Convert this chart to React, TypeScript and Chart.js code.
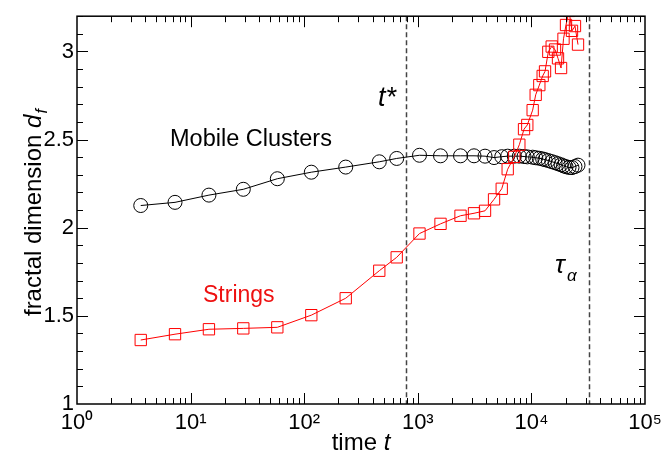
import React, { useEffect, useRef } from 'react';
import { Chart, registerables } from 'chart.js';

Chart.register(...registerables);

// shared time points (t)
const times = [3.64, 7.29, 14.5, 29.1, 58, 115.5, 232, 458, 652, 1035, 1585, 2377, 3125, 3906, 4690, 5480, 6185, 7070, 7830, 8610, 9200, 10260, 10910, 11740, 12570, 13180, 14090, 15090, 16140, 17150, 18240, 19170, 20170, 21440, 22770, 24190, 25720];

// Mobile Clusters fractal dimension
const mobileClusters = [2.126, 2.144, 2.185, 2.218, 2.278, 2.315, 2.344, 2.374, 2.393, 2.411, 2.408, 2.408, 2.408, 2.406, 2.398, 2.403, 2.406, 2.406, 2.406, 2.404, 2.402, 2.4, 2.397, 2.394, 2.39, 2.386, 2.381, 2.375, 2.369, 2.363, 2.357, 2.351, 2.346, 2.342, 2.341, 2.347, 2.355];

// Strings fractal dimension
const strings = [1.363, 1.396, 1.424, 1.429, 1.435, 1.504, 1.6, 1.756, 1.832, 1.967, 2.022, 2.068, 2.082, 2.096, 2.161, 2.221, 2.332, 2.402, 2.471, 2.559, 2.583, 2.667, 2.754, 2.809, 2.861, 2.887, 2.998, 3.028, 3.011, 2.961, 2.906, 3.072, 3.15, 3.23, 3.117, 3.144, 3.039];

const tStar = 790;
const tauAlpha = 32000;

const xTickValues = [1, 10, 100, 1000, 10000, 100000];
const yTickValues = [1, 1.5, 2, 2.5, 3];

const FONT = "'Liberation Sans', Arial, Helvetica, sans-serif";
const SUP = ['⁰', '¹', '²', '³', '⁴', '⁵', '⁶'];

const decor = {
  id: 'decor',
  beforeDatasetsDraw(chart: any) {
    const { ctx, chartArea: a, scales } = chart;
    const x = scales.x;
    ctx.save();
    ctx.strokeStyle = '#444';
    ctx.lineWidth = 1.5;
    ctx.setLineDash([5, 3]);
    for (const t of [tStar, tauAlpha]) {
      const px = Math.round(x.getPixelForValue(t)) + 0.5;
      ctx.beginPath();
      ctx.moveTo(px, a.top);
      ctx.lineTo(px, a.bottom);
      ctx.stroke();
    }
    ctx.restore();
  },
  afterDraw(chart: any) {
    const { ctx, chartArea: a, scales } = chart;
    const x = scales.x;
    const y = scales.y;
    ctx.save();
    // frame
    ctx.strokeStyle = '#000';
    ctx.lineWidth = 1.5;
    ctx.strokeRect(a.left, a.top, a.right - a.left, a.bottom - a.top);
    ctx.lineWidth = 1;
    // x ticks (inward, bottom and top)
    ctx.beginPath();
    for (let k = 0; k < 5; k++) {
      for (let m = 1; m <= 9; m++) {
        const v = m * Math.pow(10, k);
        if (m === 1 && k === 0) continue;
        const px = Math.round(x.getPixelForValue(v)) + 0.5;
        const len = m === 1 ? 11 : 6;
        ctx.moveTo(px, a.bottom);
        ctx.lineTo(px, a.bottom - len);
        ctx.moveTo(px, a.top);
        ctx.lineTo(px, a.top + len);
      }
    }
    // y ticks (inward, left and right)
    for (let i = 11; i <= 32; i++) {
      const v = i / 10;
      const py = Math.round(y.getPixelForValue(v)) + 0.5;
      const len = i % 5 === 0 ? 11 : 6;
      ctx.moveTo(a.left, py);
      ctx.lineTo(a.left + len, py);
      ctx.moveTo(a.right, py);
      ctx.lineTo(a.right - len, py);
    }
    ctx.stroke();

    ctx.textBaseline = 'alphabetic';
    ctx.textAlign = 'left';
    // x title: time t
    ctx.fillStyle = '#000';
    const f1 = `24px ${FONT}`;
    const f1i = `italic 24px ${FONT}`;
    ctx.font = f1;
    const w1 = ctx.measureText('time ').width;
    ctx.font = f1i;
    const w2 = ctx.measureText('t').width;
    const cx = (a.left + a.right) / 2;
    const sx = cx - (w1 + w2) / 2;
    ctx.font = f1;
    ctx.fillText('time ', sx, 450);
    ctx.font = f1i;
    ctx.fillText('t', sx + w1, 450);

    // y title: fractal dimension d_f
    ctx.save();
    ctx.translate(41, (a.top + a.bottom) / 2 + 3);
    ctx.rotate(-Math.PI / 2);
    ctx.font = f1;
    const p1 = 'fractal dimension ';
    const wp1 = ctx.measureText(p1).width;
    ctx.font = f1i;
    const wd = ctx.measureText('d').width;
    ctx.font = `italic 16px ${FONT}`;
    const wf = ctx.measureText('f').width;
    const s = -(wp1 + wd + wf) / 2;
    ctx.font = f1;
    ctx.fillText(p1, s, 0);
    ctx.font = f1i;
    ctx.fillText('d', s + wp1, 0);
    ctx.font = `italic 16px ${FONT}`;
    ctx.fillText('f', s + wp1 + wd + 1, 6);
    ctx.restore();

    // annotations
    ctx.font = `23.5px ${FONT}`;
    ctx.fillStyle = '#000';
    ctx.fillText('Mobile Clusters', 170, 146);
    ctx.font = `23px ${FONT}`;
    ctx.fillStyle = '#ee1111';
    ctx.fillText('Strings', 203, 302);
    ctx.fillStyle = '#000';
    ctx.font = `italic 27px ${FONT}`;
    ctx.textAlign = 'right';
    ctx.fillText('t*', 396, 106);
    ctx.textAlign = 'left';
    ctx.font = `italic 26px ${FONT}`;
    ctx.fillText('τ', 555, 273);
    ctx.font = `italic 17px ${FONT}`;
    ctx.fillText('α', 567, 281);
    ctx.restore();
  },
};

export default function App() {
  const ref = useRef<HTMLCanvasElement>(null);
  useEffect(() => {
    document.body.style.margin = '0';
    const chart = new Chart(ref.current as HTMLCanvasElement, {
      type: 'line',
      data: {
        datasets: [
          {
            label: 'Strings',
            data: times.map((t, i) => ({ x: t, y: strings[i] })),
            borderColor: '#ff0000',
            borderWidth: 1,
            pointStyle: 'rect',
            pointRadius: 8,
            pointBorderColor: '#ff0000',
            pointBorderWidth: 1,
            pointBackgroundColor: 'rgba(0,0,0,0)',
            tension: 0,
          },
          {
            label: 'Mobile Clusters',
            data: times.map((t, i) => ({ x: t, y: mobileClusters[i] })),
            borderColor: '#000',
            borderWidth: 1,
            pointStyle: 'circle',
            pointRadius: 7,
            pointBorderColor: '#000',
            pointBorderWidth: 1,
            pointBackgroundColor: 'rgba(0,0,0,0)',
            tension: 0,
          },
        ],
      },
      options: {
        animation: false,
        responsive: false,
        events: [],
        layout: { padding: { top: 8, right: 25, left: 0, bottom: 0 } },
        plugins: { legend: { display: false }, tooltip: { enabled: false } },
        scales: {
          x: {
            type: 'logarithmic',
            min: 1,
            max: 100000,
            grid: { display: false, drawTicks: false },
            border: { display: false },
            afterBuildTicks: (scale: any) => {
              scale.ticks = xTickValues.map((v) => ({ value: v }));
            },
            afterFit: (scale: any) => {
              scale.height = 55;
            },
            ticks: {
              autoSkip: false,
              maxRotation: 0,
              padding: 6,
              color: '#000',
              font: { family: FONT, size: 22 },
              callback: (v: any) => '10' + SUP[Math.round(Math.log10(Number(v)))],
            },
          },
          y: {
            type: 'linear',
            min: 1,
            max: 3.2,
            grid: { display: false, drawTicks: false },
            border: { display: false },
            afterBuildTicks: (scale: any) => {
              scale.ticks = yTickValues.map((v) => ({ value: v }));
            },
            afterFit: (scale: any) => {
              scale.width = 77;
            },
            ticks: {
              padding: 3,
              color: '#000',
              font: { family: FONT, size: 22 },
              callback: (v: any) => String(v),
            },
          },
        },
      },
      plugins: [decor],
    });
    return () => chart.destroy();
  }, []);
  return (
    <div style={{ width: 670, height: 459 }}>
      <canvas ref={ref} width={670} height={459} style={{ display: 'block' }} />
    </div>
  );
}
